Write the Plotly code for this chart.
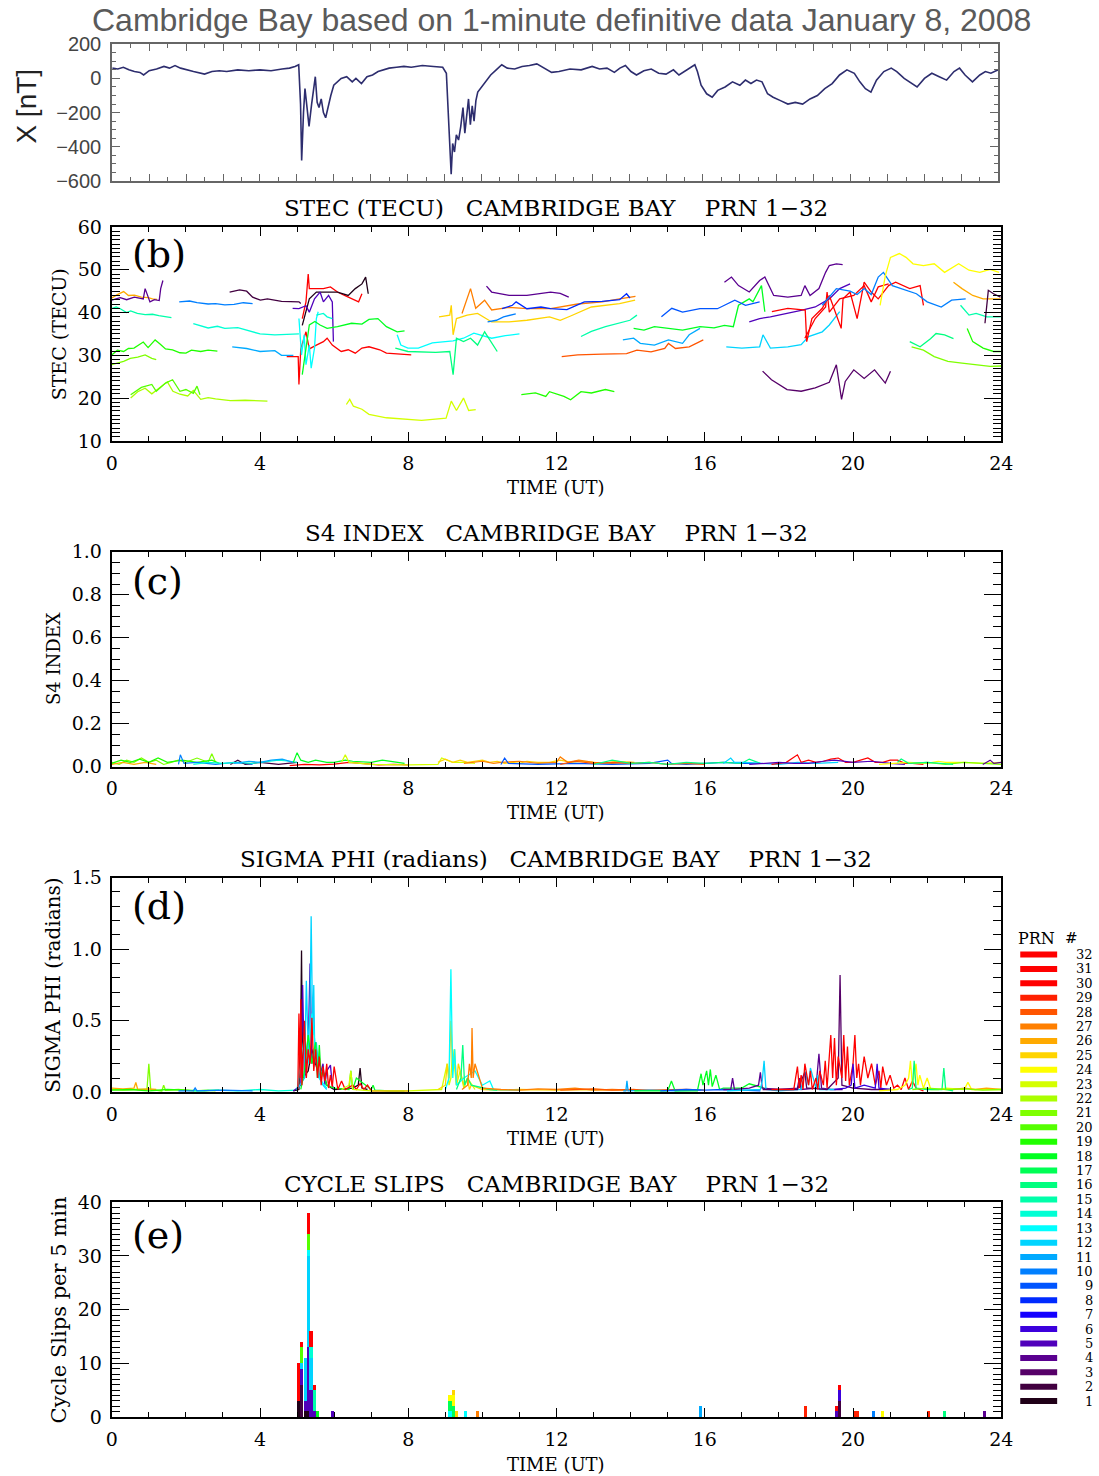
import plotly.graph_objects as go

# Reference picture is 1099 x 1476.  The capture maps figure pixels to picture
# pixels as  pic = S * fig + (BX, BY)  (measured on earlier renders), so layout
# positions given in reference pixels are converted back through that map.
W_REF, H_REF = 1099, 1476
S, BX, BY = 0.986, 4.5, 9.8
W_FIG, H_FIG = 1112, 1490
SERIF = "DejaVu Serif"
SANS = "Liberation Sans"

# ---------------- colours (IDL rainbow table, PRN 1..32) ----------------
PRN_COLORS = {1: "#200018", 2: "#420040", 3: "#560068", 4: "#5a0090", 5: "#5000bb",
              6: "#3c00dc", 7: "#1400ff", 8: "#002aff", 9: "#0055ff", 10: "#007fff",
              11: "#00aaff", 12: "#00d4ff", 13: "#00ffff", 14: "#00ffd4", 15: "#00ffaa",
              16: "#00ff7f", 17: "#00ff55", 18: "#00ff20", 19: "#20ff00", 20: "#55ff00",
              21: "#7fff00", 22: "#aaff00", 23: "#d4ff00", 24: "#ffff00", 25: "#ffd400",
              26: "#ffaa00", 27: "#ff7f00", 28: "#ff5500", 29: "#ff2000", 30: "#ff0000",
              31: "#ff0000", 32: "#ff0000"}

# ---------------- (a) magnetometer X component ----------------
MAG_T = [0.0, 0.15, 0.3, 0.45, 0.6, 0.75, 0.85, 1.0, 1.2, 1.4, 1.55, 1.7, 1.85, 2.0, 2.2, 2.5, 2.7,
         2.9, 3.1, 3.4, 3.7, 4.0, 4.3, 4.6, 4.8, 4.95, 5.05, 5.1, 5.13, 5.18, 5.22, 5.28, 5.33, 5.4,
         5.47, 5.5, 5.55, 5.6, 5.66, 5.72, 5.78, 5.85, 5.92, 6.0, 6.1, 6.2, 6.35, 6.5, 6.6, 6.75,
         6.9, 7.05, 7.2, 7.35, 7.5, 7.7, 7.9, 8.1, 8.4, 8.7, 8.95, 9.05, 9.12, 9.18, 9.22, 9.27,
         9.32, 9.38, 9.44, 9.5, 9.55, 9.6, 9.65, 9.7, 9.75, 9.8, 9.85, 9.9, 10.0, 10.1, 10.25,
         10.4, 10.55, 10.7, 10.9, 11.1, 11.3, 11.5, 11.7, 11.9, 12.1, 12.4, 12.7, 13.0, 13.2, 13.4,
         13.6, 13.75, 13.9, 14.05, 14.2, 14.4, 14.6, 14.8, 15.0, 15.2, 15.35, 15.5, 15.65, 15.78,
         15.85, 15.95, 16.1, 16.25, 16.4, 16.6, 16.8, 17.0, 17.15, 17.3, 17.45, 17.6, 17.75, 17.9,
         18.1, 18.3, 18.5, 18.7, 18.9, 19.1, 19.3, 19.5, 19.7, 19.9, 20.1, 20.25, 20.4, 20.55,
         20.7, 20.9, 21.1, 21.25, 21.45, 21.6, 21.8, 22.0, 22.2, 22.4, 22.6, 22.8, 22.95, 23.1,
         23.3, 23.5, 23.65, 23.8, 24.0]
MAG_X = [60, 55, 65, 50, 40, 35, 20, 45, 55, 70, 60, 75, 60, 50, 40, 25, 40,
         45, 40, 50, 45, 50, 45, 55, 60, 70, 80, -150, -480, -200, -60, -180, -280, -150,
         -30, 10, -140, -170, -120, -200, -230, -160, -100, -40, -20, 0, 10, -20, 0, -30,
         10, 20, 40, 50, 60, 65, 70, 65, 75, 70, 65, 30, -300, -560, -380, -430,
         -330, -360, -280, -170, -320, -220, -120, -270, -160, -250, -130, -80, -50, -20, 20,
         50, 80, 60, 55, 70, 75, 85, 60, 35, 40, 55, 50, 70, 55, 60,
         35, 60, 75, 40, 20, 45, 55, 30, 25, 50, 20, 40, 65, 80,
         40, -40, -90, -110, -70, -50, -20, -40, -10, -30, -10, -20, -90, -110,
         -130, -150, -140, -150, -120, -100, -60, -30, 20, 50, 30, -20, -60, -80,
         -10, 40, 60, 40, 0, -20, -50, 0, 30, 10, -10, 40, 60, 20,
         -20, 20, 40, 30, 50]

# ---------------- (b) STEC segments ----------------
STEC_PRN = [26, 4, 15, 19, 21, 22, 20, 10, 2, 14, 11, 32, 31, 1, 5, 13, 14, 18, 23, 13, 16, 25, 27,
            4, 8, 10, 19, 28, 15, 18, 11, 9, 12, 4, 5, 30, 31, 10, 24, 3, 16, 21, 19, 15, 26, 2]
STEC_T = [
    [0, 0.15, 0.32, 0.45, 0.61, 0.8, 0.98, 1.1, 1.22],
    [0, 0.23, 0.4, 0.61, 0.85, 0.9, 1.03, 1.15, 1.28, 1.32, 1.38],
    [0, 0.12, 0.23, 0.4, 0.51, 0.69, 0.9, 1.1, 1.27, 1.61],
    [0, 0.15, 0.32, 0.45, 0.6, 0.72, 0.85, 0.98, 1.17, 1.31, 1.45, 1.64, 1.84, 2.0, 2.15, 2.4, 2.6, 2.85],
    [0, 0.15, 0.32, 0.5, 0.7, 0.9, 1.08, 1.2],
    [0.51, 0.7, 0.9, 1.08, 1.3, 1.5, 1.65, 1.84, 2.05, 2.2, 2.4, 2.6, 2.8, 3.2, 3.6, 4.2],
    [0.51, 0.7, 0.8, 1.08, 1.2, 1.45, 1.64, 1.84, 2.0, 2.2, 2.3, 2.38],
    [1.82, 2.1, 2.3, 2.6, 2.8, 3.05, 3.3, 3.55, 3.8],
    [3.18, 3.45, 3.64, 3.8, 4.01, 4.2, 4.58, 5.05, 5.1],
    [2.2, 2.42, 2.6, 2.85, 3.05, 3.4, 3.78, 4.0, 4.4, 4.8, 5.05],
    [3.25, 3.64, 4.0, 4.4, 4.58, 4.9],
    [4.72, 5.03, 5.05, 5.1, 5.24, 5.33, 5.52, 5.71, 5.81, 5.95, 6.19, 6.38, 6.57, 6.75, 6.94, 7.23, 7.41, 7.7, 8.08],
    [5.14, 5.24, 5.3, 5.33, 5.52, 5.71, 5.9, 6.09, 6.28, 6.47, 6.66, 6.75],
    [5.14, 5.33, 5.52, 6.09, 6.38, 6.57, 6.75, 6.85, 6.92],
    [4.88, 5.05, 5.24, 5.33, 5.47, 5.62, 5.71, 5.85, 5.95, 5.98],
    [5.05, 5.12, 5.19, 5.24, 5.33, 5.38, 5.47, 5.52, 5.57],
    [5.52, 5.71, 5.81, 5.95],
    [5.14, 5.24, 5.33, 5.48, 5.62, 5.81, 6.09, 6.47, 6.75, 6.94, 7.18, 7.41, 7.7, 7.9],
    [6.33, 6.42, 6.52, 6.75, 6.94, 7.41, 8.36, 9.02, 9.16, 9.3, 9.49, 9.63, 9.82],
    [7.7, 7.8, 7.99, 8.27, 8.65, 9.21, 9.49, 9.77, 10.25, 10.62, 11.0],
    [7.65, 7.99, 8.74, 9.12, 9.21, 9.3, 9.49, 9.68, 9.87, 10.06, 10.4],
    [8.83, 9.12, 9.16, 9.21, 9.3, 9.59, 9.87, 10.25, 10.72, 11.2, 11.81, 12.1, 12.38, 12.94, 13.7, 14.12],
    [9.45, 9.68, 9.82, 10.06, 10.25, 10.72, 11.2, 11.84, 12.57, 13.23, 13.7, 14.13],
    [10.11, 10.25, 10.72, 11.2, 11.84, 12.1, 12.33],
    [10.53, 10.81, 10.91, 11.2, 11.58, 11.84, 12.28, 12.75, 13.23, 13.7, 13.89, 13.98],
    [10.14, 10.38, 10.57, 10.9],
    [11.05, 11.43, 11.71, 11.81, 12.2, 12.38, 12.66, 12.94, 13.32, 13.56],
    [12.14, 12.57, 13.23, 13.89, 14.17, 14.55, 14.92, 15.02, 15.21, 15.58, 15.96],
    [12.66, 12.94, 13.32, 13.7, 13.98, 14.17],
    [14.08, 14.36, 14.64, 15.02, 15.4, 15.87, 16.25, 16.53, 16.77, 16.91, 17.2, 17.3, 17.43, 17.53, 17.62],
    [13.79, 14.08, 14.26, 14.64, 15.02, 15.4, 15.58, 15.87],
    [14.83, 15.11, 15.4, 15.87, 16.34, 16.81, 17.1, 17.48],
    [16.58, 17.0, 17.48, 17.57, 17.77, 18.24, 18.6, 18.8, 19.17, 19.36, 19.64],
    [16.53, 16.72, 16.91, 17.2, 17.48, 17.62, 17.86, 18.24, 18.6, 18.7, 18.84, 19.08, 19.26, 19.36, 19.55, 19.72],
    [17.2, 17.48, 17.77, 18.24, 18.6, 18.98, 19.36, 19.64, 19.92],
    [17.81, 18.24, 18.71, 18.75, 18.89, 19.17, 19.36, 19.45, 19.68, 19.73, 19.92, 20.11, 20.3, 20.49, 20.68, 20.96, 21.15, 21.53, 21.81, 21.9],
    [18.7, 18.98, 19.26, 19.3, 19.36, 19.64, 20.02, 20.3, 20.49, 20.68, 20.96],
    [19.17, 19.55, 19.92, 20.11, 20.3, 20.49, 20.68, 20.82, 21.06, 21.43, 21.71, 22.0, 22.38, 22.66, 23.04],
    [20.73, 20.87, 21.01, 21.25, 21.43, 21.62, 21.9, 22.19, 22.47, 22.85, 23.13, 23.42, 23.7, 23.94],
    [17.56, 17.8, 18.22, 18.6, 18.98, 19.36, 19.55, 19.69, 19.79, 20.02, 20.3, 20.58, 20.87, 21.01],
    [21.53, 21.81, 22.09, 22.24, 22.47, 22.71],
    [21.58, 21.9, 22.19, 22.56, 22.94, 23.42, 23.7, 24.0],
    [23.08, 23.23, 23.51, 23.79, 23.98],
    [22.9, 23.13, 23.32, 23.61, 23.98],
    [22.71, 22.94, 23.23, 23.51, 23.98],
    [23.56, 23.65, 23.79, 23.98],
]
STEC_V = [
    [43.4, 44.2, 44.9, 44.0, 44.1, 43.6, 43.5, 43.2, 43.1],
    [42.9, 43.5, 43.0, 43.6, 43.2, 45.6, 42.5, 43.0, 42.8, 45.6, 47.5],
    [40.9, 41.3, 40.9, 40.0, 40.4, 39.8, 39.5, 39.6, 39.3, 38.8],
    [30.1, 31.2, 30.9, 31.6, 31.7, 32.4, 33.1, 31.8, 33.6, 32.6, 31.5, 31.3, 30.6, 30.5, 31.2, 30.9, 31.2, 31.0],
    [27.8, 28.2, 28.6, 29.3, 29.6, 30.1, 29.3, 29.0],
    [20.0, 21.5, 22.3, 21.0, 22.5, 23.8, 21.6, 20.9, 20.5, 21.8, 19.7, 20.1, 19.8, 19.4, 19.5, 19.3],
    [20.8, 22.0, 22.5, 23.2, 21.6, 23.5, 24.3, 21.6, 22.0, 21.1, 22.8, 20.8],
    [42.5, 42.7, 42.3, 42.0, 42.1, 41.8, 41.9, 42.3, 42.1],
    [44.8, 45.3, 45.0, 43.6, 42.9, 43.2, 42.6, 42.5, 42.1],
    [37.4, 36.9, 36.4, 36.8, 36.3, 36.5, 35.5, 35.0, 34.8, 35.0, 35.0],
    [32.0, 31.6, 30.9, 31.1, 30.0, 30.0],
    [29.7, 29.7, 23.2, 31.5, 35.5, 31.5, 32.4, 33.2, 34.0, 32.4, 30.9, 31.3, 30.5, 31.7, 32.0, 31.3, 30.5, 30.3, 30.1],
    [38.6, 42.5, 49.0, 45.6, 45.6, 45.6, 46.0, 44.8, 44.0, 43.2, 42.5, 44.4],
    [37.0, 43.2, 44.8, 44.8, 44.0, 45.6, 46.7, 48.3, 44.4],
    [41.0, 40.9, 41.6, 40.1, 43.2, 44.8, 42.5, 44.0, 42.5, 33.2],
    [38.6, 30.1, 34.8, 27.8, 32.4, 27.0, 31.7, 38.6, 40.2],
    [39.4, 39.8, 39.0, 38.6],
    [25.5, 31.7, 37.1, 37.9, 37.1, 36.3, 36.7, 37.5, 37.3, 38.4, 38.6, 36.7, 35.5, 35.7],
    [18.5, 19.7, 18.1, 17.4, 16.2, 15.4, 14.8, 15.3, 19.3, 17.1, 20.0, 17.1, 17.3],
    [34.8, 32.4, 31.7, 31.7, 32.9, 33.4, 34.0, 35.2, 34.0, 34.6, 35.0],
    [31.7, 30.9, 30.7, 30.9, 25.5, 34.0, 33.2, 34.0, 32.4, 35.5, 30.9],
    [39.0, 39.4, 41.7, 34.8, 38.6, 39.4, 39.8, 37.8, 37.8, 38.2, 39.0, 38.2, 39.2, 41.3, 42.1, 42.9],
    [39.8, 45.6, 41.0, 42.9, 40.6, 41.2, 40.9, 40.9, 42.0, 42.5, 43.2, 43.8],
    [46.2, 44.8, 44.0, 44.0, 44.8, 44.5, 43.6],
    [40.9, 41.7, 42.5, 40.9, 41.3, 40.9, 40.7, 42.5, 42.6, 43.0, 44.4, 43.4],
    [37.8, 38.2, 39.0, 39.7],
    [20.8, 21.2, 20.4, 21.5, 20.4, 19.6, 21.5, 21.2, 22.0, 21.5],
    [29.7, 30.1, 30.3, 30.4, 31.2, 30.8, 31.6, 32.8, 31.6, 32.0, 33.6],
    [34.4, 35.6, 36.7, 37.5, 38.2, 39.4],
    [36.3, 35.9, 36.7, 36.3, 35.9, 36.7, 36.4, 37.0, 36.7, 41.7, 43.2, 42.5, 44.8, 46.3, 40.2],
    [33.6, 34.0, 32.8, 32.4, 33.6, 32.8, 34.8, 36.3],
    [39.0, 41.0, 40.1, 40.9, 40.9, 42.9, 41.7, 42.5],
    [32.0, 31.7, 32.0, 34.8, 31.7, 32.0, 32.5, 34.4, 35.5, 37.1, 40.2],
    [47.1, 48.3, 46.3, 44.8, 47.5, 48.3, 44.0, 43.6, 44.0, 46.3, 44.0, 45.6, 49.4, 51.0, 51.4, 51.2],
    [37.8, 38.6, 39.0, 39.8, 40.5, 41.3, 43.2, 45.6, 46.7],
    [40.2, 41.0, 40.6, 33.2, 38.6, 41.0, 44.0, 41.7, 36.3, 43.2, 44.8, 38.6, 47.1, 44.8, 43.2, 46.3, 47.1, 45.6, 46.3, 41.7],
    [34.0, 38.6, 41.3, 44.8, 40.1, 43.2, 44.0, 46.3, 42.5, 46.0, 46.7],
    [41.7, 45.6, 45.0, 44.2, 45.6, 44.2, 48.3, 49.4, 46.3, 45.2, 44.4, 42.5, 41.3, 42.9, 43.2],
    [41.7, 48.6, 52.9, 53.8, 52.9, 51.4, 51.0, 51.4, 49.4, 51.4, 49.9, 49.4, 50.1, 49.4],
    [26.3, 24.3, 22.0, 21.6, 22.4, 23.7, 27.8, 19.7, 23.9, 26.6, 24.6, 26.6, 23.5, 26.3],
    [33.2, 32.0, 33.9, 35.1, 34.8, 33.9],
    [32.0, 31.2, 29.7, 28.6, 28.2, 27.8, 27.4, 27.5],
    [36.3, 33.2, 31.7, 30.9, 30.9],
    [41.7, 39.4, 39.8, 39.0, 39.0],
    [47.1, 45.6, 44.0, 43.2, 43.2],
    [37.5, 45.2, 44.4, 43.6],
]

# ---------------- (c) S4 index ----------------
S4_PRN = [21, 26, 19, 10, 2, 14, 11, 18, 32, 23, 25, 27, 9, 28, 16, 12, 30, 5, 24, 21, 16, 4]
S4_T = [
    [0, 0.2, 0.4, 0.6, 0.8, 1.0, 1.2, 1.4, 1.6, 1.8, 2.0, 2.3, 2.6, 2.7, 2.8],
    [0, 0.3, 0.6, 0.9, 1.2],
    [0, 0.25, 0.5, 0.75, 1.0, 1.25, 1.5, 1.9, 2.3, 2.7, 2.9],
    [1.8, 1.85, 1.95, 2.3, 2.8, 3.3, 3.8],
    [3.2, 3.4, 3.6, 4.0, 4.5, 5.0],
    [2.2, 2.6, 3.0, 3.4, 3.8, 4.2, 4.5, 4.8, 5.0],
    [3.3, 3.7, 4.0, 4.3, 4.6, 4.9],
    [4.9, 5.0, 5.1, 5.3, 5.5, 5.8, 6.0, 6.3, 6.5, 6.8, 7.0, 7.3, 7.5, 7.9],
    [4.8, 5.2, 5.6, 6.0, 6.4, 6.8, 7.2, 7.6, 8.0],
    [6.2, 6.3, 6.4, 7.0, 8.0, 8.8, 8.9, 9.2, 9.5, 9.8],
    [8.8, 9.0, 9.2, 9.4, 9.6, 9.8, 10.0, 10.2, 10.4, 10.6, 10.8, 11.0, 11.2, 11.5, 11.8, 12.1, 12.4, 12.7, 13.0, 13.3, 13.6, 13.9, 14.1],
    [9.5, 9.8, 10.0, 10.3, 10.5, 11.0, 11.5, 12.0, 12.1, 12.3, 12.6, 13.0, 13.5, 14.0, 14.1],
    [10.5, 10.6, 10.7, 11.5, 12.5, 13.5, 14.5, 15.0, 15.1, 15.5, 16.0, 16.5, 17.0, 17.5],
    [12.1, 12.5, 13.0, 13.5, 14.0, 14.5, 15.0, 15.5, 16.0],
    [13.0, 13.5, 14.0, 14.5, 15.0, 15.5, 16.0, 16.5, 17.0, 17.2, 17.5],
    [16.5, 16.7, 16.8, 17.1, 17.5, 18.0, 18.5, 19.0, 19.6],
    [17.8, 18.2, 18.5, 18.6, 18.8, 19.0, 19.2, 19.4, 19.6, 19.8, 20.0, 20.2, 20.4, 20.6, 20.8, 21.0, 21.2, 21.4, 21.6, 21.9],
    [17.2, 17.6, 18.0, 18.4, 18.8, 19.2, 19.5, 20.0, 20.5, 21.0, 21.4],
    [20.7, 21.0, 21.5, 22.0, 22.3, 22.5, 23.0, 23.5, 24.0],
    [21.6, 22.0, 22.5, 23.0, 23.5, 24.0],
    [21.2, 21.3, 21.5, 22.0, 22.7],
    [23.5, 23.7, 23.8, 24.0],
]
S4_V = [
    [0.02, 0.01, 0.03, 0.02, 0.04, 0.02, 0.03, 0.01, 0.02, 0.03, 0.02, 0.04, 0.02, 0.06, 0.02],
    [0.01, 0.02, 0.01, 0.02, 0.01],
    [0.015, 0.03, 0.02, 0.035, 0.02, 0.04, 0.02, 0.03, 0.02, 0.03, 0.015],
    [0.01, 0.055, 0.015, 0.02, 0.01, 0.02, 0.01],
    [0.01, 0.03, 0.01, 0.02, 0.01, 0.02],
    [0.01, 0.02, 0.015, 0.02, 0.015, 0.025, 0.03, 0.025, 0.02],
    [0.015, 0.025, 0.02, 0.03, 0.035, 0.02],
    [0.02, 0.065, 0.03, 0.02, 0.03, 0.02, 0.02, 0.03, 0.025, 0.02, 0.02, 0.03, 0.025, 0.015],
    [0.005, 0.01, 0.008, 0.012, 0.02, 0.015, 0.008, 0.01, 0.008],
    [0.02, 0.055, 0.02, 0.01, 0.008, 0.01, 0.04, 0.02, 0.02, 0.015],
    [0.02, 0.035, 0.02, 0.03, 0.02, 0.025, 0.03, 0.02, 0.025, 0.015, 0.02, 0.015, 0.025, 0.02, 0.02, 0.03, 0.02, 0.025, 0.02, 0.015, 0.025, 0.02, 0.02],
    [0.015, 0.02, 0.025, 0.015, 0.02, 0.025, 0.015, 0.02, 0.045, 0.02, 0.03, 0.02, 0.015, 0.02, 0.015],
    [0.01, 0.04, 0.015, 0.01, 0.015, 0.01, 0.015, 0.03, 0.015, 0.01, 0.015, 0.02, 0.015, 0.015],
    [0.01, 0.025, 0.015, 0.02, 0.015, 0.02, 0.01, 0.015, 0.01],
    [0.01, 0.03, 0.015, 0.02, 0.01, 0.02, 0.015, 0.02, 0.015, 0.035, 0.015],
    [0.015, 0.04, 0.02, 0.02, 0.015, 0.01, 0.02, 0.015, 0.02],
    [0.01, 0.02, 0.055, 0.02, 0.03, 0.02, 0.025, 0.035, 0.04, 0.02, 0.02, 0.03, 0.04, 0.02, 0.02, 0.03, 0.03, 0.015, 0.015, 0.01],
    [0.01, 0.015, 0.02, 0.015, 0.015, 0.025, 0.03, 0.02, 0.025, 0.015, 0.01],
    [0.01, 0.015, 0.02, 0.015, 0.025, 0.02, 0.02, 0.015, 0.02],
    [0.015, 0.02, 0.01, 0.02, 0.015, 0.01],
    [0.02, 0.035, 0.015, 0.02, 0.01],
    [0.01, 0.03, 0.015, 0.02],
]

# ---------------- (d) sigma phi ----------------
SIG_PRN = [21, 26, 19, 14, 10, 1, 5, 12, 13, 18, 32, 23, 25, 13, 16, 27, 28, 11, 18, 9, 4, 12, 3,
           30, 6, 24, 16, 26, 21]
SIG_T = [
    [0, 0.3, 0.6, 0.95, 1.0, 1.05, 1.35, 1.4, 1.45, 1.8, 2.2, 2.6, 2.8],
    [0, 0.3, 0.6, 0.65, 0.7, 1.0, 1.2],
    [0, 0.5, 1.0, 1.5, 2.0, 2.5, 2.9],
    [2.2, 2.8, 3.4, 4.0, 4.5, 5.0],
    [1.8, 2.2, 2.25, 2.3, 3.0, 3.8],
    [4.9, 5.05, 5.1, 5.12, 5.15, 5.3, 5.4, 5.6, 5.7, 5.8, 6.0, 6.5, 6.65, 6.7, 6.75, 6.9],
    [4.9, 5.1, 5.15, 5.2, 5.3, 5.35, 5.4, 5.5, 5.6, 5.7, 5.75, 5.8, 5.9, 5.95, 6.0],
    [5.0, 5.2, 5.25, 5.3, 5.35, 5.38, 5.42, 5.45, 5.48, 5.52, 5.6, 5.7, 5.8],
    [5.0, 5.2, 5.3, 5.4, 5.5, 5.6, 5.8],
    [5.1, 5.2, 5.3, 5.4, 5.5, 5.55, 5.6, 5.65, 5.7, 5.8, 6.0, 6.4, 6.45, 6.5, 6.6, 7.0, 7.05, 7.1, 7.5, 7.9],
    [5.02, 5.05, 5.08, 5.1, 5.13, 5.16, 5.2, 5.25, 5.3, 5.35, 5.4, 5.45, 5.5, 5.55, 5.6, 5.65, 5.7, 5.75,
     5.8, 5.85, 5.9, 5.95, 6.0, 6.1, 6.2, 6.3, 6.5, 6.6, 6.7, 6.8, 6.9, 7.0, 7.3, 7.7, 8.0],
    [6.2, 6.4, 6.45, 6.5, 7.0, 8.0, 8.9, 9.05, 9.1, 9.15, 9.2, 9.3, 9.4, 9.5, 9.6, 9.8],
    [8.8, 9.0, 9.05, 9.1, 9.15, 9.2, 9.25, 9.3, 9.35, 9.5, 9.6, 9.65, 9.7, 10.0, 10.5, 11.0, 12.0, 13.0, 14.1],
    [9.0, 9.1, 9.15, 9.2, 9.25, 9.3, 9.5, 9.8, 10.0, 10.2, 10.3, 11.0],
    [9.3, 9.42, 9.47, 9.52, 9.6, 9.7, 10.2, 10.4],
    [9.45, 9.6, 9.65, 9.7, 9.72, 9.75, 9.8, 10.0, 10.5, 11.0, 11.5, 12.0, 12.5, 13.0, 13.5, 14.0, 14.1],
    [12.1, 12.5, 13.0, 13.5, 14.0, 14.5, 15.0, 15.5, 16.0],
    [13.8, 13.87, 13.9, 13.93, 14.5, 15.2, 15.9],
    [14.1, 15.0, 15.1, 15.2, 15.8, 15.9, 15.95, 16.05, 16.1, 16.15, 16.2, 16.3, 16.4, 16.5, 17.0, 17.2, 17.6],
    [14.8, 15.5, 16.0, 16.5, 17.0, 17.5],
    [16.5, 16.7, 16.75, 16.8, 17.2, 17.45, 17.5, 17.55, 18.0, 18.5, 18.55, 18.6, 19.0, 19.08, 19.15, 19.4, 19.72],
    [16.6, 17.5, 17.55, 17.6, 17.65, 18.0, 18.6, 18.7, 18.8, 18.85, 19.0, 19.05, 19.1, 19.5],
    [17.56, 18.5, 18.7, 18.75, 18.8, 19.3, 19.6, 19.65, 19.7, 20.0, 20.5, 21.0],
    [17.8, 18.4, 18.5, 18.55, 18.6, 18.65, 18.7, 18.8, 18.85, 18.9, 19.0, 19.05, 19.1, 19.2, 19.25, 19.3,
     19.4, 19.45, 19.5, 19.55, 19.6, 19.7, 19.75, 19.8, 19.85, 19.9, 20.0, 20.05, 20.1, 20.15, 20.2, 20.3,
     20.4, 20.5, 20.6, 20.7, 20.75, 20.8, 20.9, 21.0, 21.1, 21.2, 21.3, 21.4, 21.5, 21.6, 21.7, 21.8, 21.9],
    [19.5, 19.8, 19.95, 20.0, 20.05, 20.3, 20.6, 20.65, 20.7, 21.0],
    [20.7, 21.2, 21.4, 21.5, 21.55, 21.6, 21.7, 21.75, 21.8, 21.9, 22.0, 22.1, 22.3, 22.5, 23.0, 23.1, 23.2, 23.5, 24.0],
    [21.5, 21.6, 21.65, 21.7, 22.0, 22.4, 22.45, 22.5, 22.7],
    [22.7, 23.0, 23.3, 23.6, 24.0],
    [21.6, 22.0, 22.5, 23.0, 23.5, 24.0],
]
SIG_V = [
    [0.02, 0.015, 0.02, 0.02, 0.2, 0.02, 0.01, 0.05, 0.015, 0.02, 0.01, 0.015, 0.01],
    [0.03, 0.025, 0.03, 0.07, 0.02, 0.025, 0.02],
    [0.015, 0.02, 0.01, 0.02, 0.015, 0.01, 0.015],
    [0.01, 0.015, 0.01, 0.02, 0.01, 0.015],
    [0.01, 0.01, 0.03, 0.01, 0.015, 0.01],
    [0.01, 0.02, 0.5, 0.99, 0.1, 0.15, 0.3, 0.1, 0.15, 0.05, 0.02, 0.03, 0.05, 0.17, 0.03, 0.02],
    [0.01, 0.05, 0.75, 0.1, 0.3, 0.9, 0.2, 0.35, 0.1, 0.2, 0.05, 0.15, 0.19, 0.05, 0.02],
    [0.02, 0.1, 0.78, 0.3, 0.6, 1.23, 0.4, 0.75, 0.2, 0.35, 0.1, 0.05, 0.02],
    [0.02, 0.4, 0.2, 0.55, 0.3, 0.1, 0.03],
    [0.02, 0.15, 0.4, 0.2, 0.35, 0.1, 0.33, 0.1, 0.15, 0.05, 0.03, 0.02, 0.15, 0.02, 0.1, 0.02, 0.05, 0.015, 0.01, 0.01],
    [0.02, 0.55, 0.1, 0.65, 0.05, 0.2, 0.5, 0.1, 0.3, 0.2, 0.52, 0.15, 0.3, 0.1, 0.25, 0.05, 0.18, 0.08,
     0.2, 0.03, 0.12, 0.04, 0.18, 0.02, 0.08, 0.02, 0.05, 0.02, 0.06, 0.02, 0.05, 0.01, 0.01, 0.01, 0.01],
    [0.02, 0.05, 0.15, 0.02, 0.01, 0.01, 0.02, 0.2, 0.05, 0.1, 0.3, 0.05, 0.15, 0.03, 0.1, 0.02],
    [0.02, 0.05, 0.2, 0.1, 0.5, 0.15, 0.3, 0.05, 0.2, 0.05, 0.1, 0.02, 0.05, 0.02, 0.015, 0.02, 0.015, 0.02, 0.015],
    [0.02, 0.1, 0.86, 0.1, 0.3, 0.05, 0.1, 0.15, 0.05, 0.08, 0.02, 0.015],
    [0.02, 0.1, 0.33, 0.05, 0.1, 0.05, 0.02, 0.015],
    [0.02, 0.05, 0.2, 0.1, 0.45, 0.1, 0.2, 0.03, 0.02, 0.015, 0.025, 0.02, 0.03, 0.015, 0.02, 0.015, 0.02],
    [0.015, 0.02, 0.025, 0.015, 0.02, 0.015, 0.02, 0.02, 0.015],
    [0.01, 0.01, 0.08, 0.01, 0.015, 0.01, 0.015],
    [0.01, 0.01, 0.08, 0.01, 0.01, 0.13, 0.05, 0.15, 0.05, 0.16, 0.04, 0.12, 0.02, 0.03, 0.03, 0.06, 0.03],
    [0.01, 0.02, 0.015, 0.02, 0.015, 0.01],
    [0.02, 0.02, 0.1, 0.02, 0.03, 0.05, 0.14, 0.03, 0.02, 0.03, 0.1, 0.02, 0.03, 0.27, 0.03, 0.02, 0.02],
    [0.01, 0.02, 0.08, 0.22, 0.02, 0.01, 0.02, 0.15, 0.05, 0.17, 0.03, 0.12, 0.02, 0.02],
    [0.02, 0.02, 0.14, 0.03, 0.03, 0.02, 0.1, 0.82, 0.05, 0.03, 0.02, 0.02],
    [0.02, 0.02, 0.18, 0.03, 0.12, 0.02, 0.2, 0.05, 0.15, 0.02, 0.1, 0.02, 0.15, 0.05, 0.22, 0.03,
     0.4, 0.1, 0.38, 0.05, 0.25, 0.1, 0.4, 0.08, 0.32, 0.05, 0.2, 0.4, 0.1, 0.2, 0.05, 0.25,
     0.1, 0.2, 0.05, 0.15, 0.03, 0.18, 0.05, 0.12, 0.03, 0.05, 0.02, 0.1, 0.02, 0.08, 0.03, 0.02, 0.01],
    [0.02, 0.03, 0.05, 0.2, 0.03, 0.05, 0.03, 0.2, 0.03, 0.02],
    [0.01, 0.02, 0.05, 0.1, 0.22, 0.05, 0.2, 0.05, 0.12, 0.03, 0.1, 0.02, 0.02, 0.03, 0.02, 0.07, 0.02, 0.02, 0.02],
    [0.02, 0.03, 0.22, 0.03, 0.02, 0.02, 0.17, 0.02, 0.01],
    [0.02, 0.03, 0.02, 0.03, 0.02],
    [0.02, 0.03, 0.02, 0.025, 0.015, 0.02],
]

# ---------------- (e) cycle slips per 5-min bin ----------------
SLIP_T = [5.04, 5.04, 5.12, 5.12, 5.12, 5.12, 5.12, 5.21, 5.21, 5.21,
          5.29, 5.29, 5.29, 5.29, 5.29, 5.29, 5.37, 5.37, 5.37, 5.37,
          5.46, 5.46, 5.46, 5.54, 5.96, 9.12, 9.12, 9.12, 9.21, 9.21, 9.21,
          9.29, 9.54, 9.87, 15.87, 18.71, 19.54, 19.54, 19.62, 19.62, 19.62,
          20.04, 20.12, 20.54, 20.79, 22.04, 22.46, 23.54]
SLIP_PRN = [1, 32, 2, 5, 12, 20, 32, 1, 5, 12,
            1, 5, 12, 13, 20, 31, 5, 12, 14, 31,
            5, 15, 31, 18, 5, 13, 17, 24, 17, 24, 25,
            25, 13, 27, 11, 29, 5, 30, 2, 6, 30,
            29, 29, 10, 24, 29, 16, 4]
SLIP_N = [3, 7, 6, 3, 1, 3, 1, 1, 2, 8,
          1, 12, 17, 1, 3, 4, 5, 6, 2, 3,
          1, 4, 1, 1, 1, 1, 2, 1, 2, 2, 1,
          1, 1, 1, 2, 2, 1, 1, 3, 2, 1,
          1, 1, 1, 1, 1, 1, 1]

X_TICKS = [0, 4, 8, 12, 16, 20, 24]
LEGEND_PRNS = list(range(1, 33))


# ---------------- layout helpers (reference pixel -> paper) ----------------
def px(x):
    return ((x - BX) / S) / W_FIG


def py(y):
    return 1 - ((y - BY) / S) / H_FIG


def xdom(l, r):
    return [px(l), px(r)]


def ydom(top, bottom):
    return [py(bottom), py(top)]


def time_axis(dom, anchor):
    return dict(domain=dom, anchor=anchor, range=[0, 24], tickmode="array", tickvals=X_TICKS,
                ticks="inside", ticklen=9, tickwidth=1.2, tickcolor="black",
                minor=dict(dtick=1, tick0=0, ticklen=5, tickwidth=1, tickcolor="black", ticks="inside"),
                showline=True, linecolor="black", linewidth=2, mirror="allticks",
                showgrid=False, zeroline=False, ticklabelstandoff=4,
                tickfont=dict(family=SERIF, size=19, color="black"))


def val_axis(dom, anchor, rng, dtick, minor, fmt=None):
    d = dict(domain=dom, anchor=anchor, range=rng, dtick=dtick, tick0=0,
             ticks="inside", ticklen=17, tickwidth=1.2, tickcolor="black",
             minor=dict(dtick=minor, tick0=0, ticklen=8, tickwidth=1, tickcolor="black", ticks="inside"),
             showline=True, linecolor="black", linewidth=2, mirror="allticks",
             showgrid=False, zeroline=False, ticklabelstandoff=4,
             tickfont=dict(family=SERIF, size=19, color="black"))
    if fmt:
        d["tickformat"] = fmt
    return d


XD = xdom(110.5, 1002)
fig = go.Figure()

# (a)
fig.add_trace(go.Scatter(x=MAG_T, y=MAG_X, mode="lines", line=dict(color="#2d2d6e", width=1.6),
                         xaxis="x", yaxis="y", showlegend=False, hoverinfo="skip"))
# (b)
for prn, t, v in zip(STEC_PRN, STEC_T, STEC_V):
    fig.add_trace(go.Scatter(x=t, y=v, mode="lines", line=dict(color=PRN_COLORS[prn], width=1.3),
                             xaxis="x2", yaxis="y2", showlegend=False, hoverinfo="skip"))
# (c)
for prn, t, v in zip(S4_PRN, S4_T, S4_V):
    fig.add_trace(go.Scatter(x=t, y=v, mode="lines", line=dict(color=PRN_COLORS[prn], width=1.2),
                             xaxis="x3", yaxis="y3", showlegend=False, hoverinfo="skip"))
# (d)
for prn, t, v in zip(SIG_PRN, SIG_T, SIG_V):
    fig.add_trace(go.Scatter(x=t, y=v, mode="lines", line=dict(color=PRN_COLORS[prn], width=1.3),
                             xaxis="x4", yaxis="y4", showlegend=False, hoverinfo="skip"))
# (e) stacked, PRN 1 at the bottom
for prn in sorted(set(SLIP_PRN)):
    xs = [t for t, p in zip(SLIP_T, SLIP_PRN) if p == prn]
    ys = [n for n, p in zip(SLIP_N, SLIP_PRN) if p == prn]
    fig.add_trace(go.Bar(x=xs, y=ys, width=5 / 60, marker=dict(color=PRN_COLORS[prn], line=dict(width=0)),
                         xaxis="x5", yaxis="y5", showlegend=False, hoverinfo="skip"))
# colour key (axis x6 spans reference pixels 1015..1099, one unit per pixel)
for prn in LEGEND_PRNS:
    fig.add_trace(go.Scatter(x=[6, 43], y=[prn, prn], mode="lines",
                             line=dict(color=PRN_COLORS[prn], width=6),
                             xaxis="x6", yaxis="y6", showlegend=False, hoverinfo="skip"))

annotations = []
for prn in LEGEND_PRNS:
    annotations.append(dict(x=81, y=prn, xref="x6", yref="y6", text=str(prn), showarrow=False,
                            xanchor="right", yanchor="middle",
                            font=dict(family=SERIF, size=13, color="black")))
annotations.append(dict(x=px(1017), y=py(938), xref="paper", yref="paper", text="PRN", showarrow=False,
                        xanchor="left", yanchor="middle", font=dict(family=SERIF, size=16, color="black")))
annotations.append(dict(x=px(1064), y=py(938), xref="paper", yref="paper", text="#", showarrow=False,
                        xanchor="left", yanchor="middle", font=dict(family=SERIF, size=15, color="black")))

NB = "\u00a0"
titles = [("STEC (TECU)", 207), ("S4 INDEX", 532), ("SIGMA PHI (radians)", 858), ("CYCLE SLIPS", 1184)]
for txt, ypx in titles:
    annotations.append(dict(x=px(556), y=py(ypx), xref="paper", yref="paper",
                            text=txt + NB * 3 + "CAMBRIDGE BAY" + NB * 4 + "PRN 1\u221232",
                            showarrow=False, xanchor="center", yanchor="middle",
                            font=dict(family=SERIF, size=23, color="black")))
for ypx in [487, 812, 1138, 1464]:
    annotations.append(dict(x=px(556), y=py(ypx), xref="paper", yref="paper", text="TIME (UT)",
                            showarrow=False, xanchor="center", yanchor="middle",
                            font=dict(family=SERIF, size=18, color="black")))
for lab, ypx in [("(b)", 253), ("(c)", 580), ("(d)", 905), ("(e)", 1235)]:
    annotations.append(dict(x=px(129), y=py(ypx), xref="paper", yref="paper", text=lab,
                            showarrow=False, xanchor="left", yanchor="middle",
                            font=dict(family=SERIF, size=38, color="black")))
for txt, xpx, ypx, fs in [("STEC (TECU)", 58, 333, 19), ("S4 INDEX", 52, 658, 18),
                          ("SIGMA PHI (radians)", 52, 985, 20), ("Cycle Slips per 5 min", 58, 1310, 21)]:
    annotations.append(dict(x=px(xpx), y=py(ypx), xref="paper", yref="paper", text=txt,
                            textangle=-90, showarrow=False, xanchor="center", yanchor="middle",
                            font=dict(family=SERIF, size=fs, color="black")))
annotations.append(dict(x=px(561), y=py(19), xref="paper", yref="paper",
                        text="Cambridge Bay based on 1-minute definitive data January 8, 2008",
                        showarrow=False, xanchor="center", yanchor="middle",
                        font=dict(family=SANS, size=32, color="#5a5a5a")))
annotations.append(dict(x=px(25), y=py(105), xref="paper", yref="paper", text="X [nT]",
                        textangle=-90, showarrow=False, xanchor="center", yanchor="middle",
                        font=dict(family=SANS, size=28, color="#222222")))

fig.update_layout(
    width=W_FIG, height=H_FIG, margin=dict(l=0, r=0, t=0, b=0),
    paper_bgcolor="white", plot_bgcolor="white", barmode="stack", bargap=0,
    annotations=annotations,
    xaxis=dict(domain=xdom(111, 999), anchor="y", range=[0, 24], dtick=1, tick0=0,
               ticks="inside", ticklen=7, tickcolor="#666", tickwidth=1.2,
               minor=dict(dtick=0.5, tick0=0, ticklen=4, tickcolor="#666", ticks="inside"),
               showline=True, linecolor="#666", linewidth=2, mirror="allticks",
               showticklabels=False, showgrid=False, zeroline=False),
    yaxis=dict(domain=ydom(43, 180), anchor="x", range=[-600, 200], dtick=200, tick0=0,
               ticks="inside", ticklen=8, tickcolor="#666", tickwidth=1.2,
               minor=dict(dtick=50, tick0=0, ticklen=4, tickcolor="#666", ticks="inside"),
               showline=True, linecolor="#666", linewidth=2, mirror="allticks",
               showgrid=False, zeroline=False, ticklabelstandoff=5,
               tickfont=dict(family=SANS, size=20, color="#444444")),
    xaxis2=time_axis(XD, "y2"),
    yaxis2=val_axis(ydom(226, 440), "x2", [10, 60], 10, 1),
    xaxis3=time_axis(XD, "y3"),
    yaxis3=val_axis(ydom(551, 766), "x3", [0, 1], 0.2, 0.05, ".1f"),
    xaxis4=time_axis(XD, "y4"),
    yaxis4=val_axis(ydom(877, 1092), "x4", [0, 1.5], 0.5, 0.1, ".1f"),
    xaxis5=time_axis(XD, "y5"),
    yaxis5=val_axis(ydom(1202, 1417), "x5", [0, 40], 10, 1),
    xaxis6=dict(domain=xdom(1015, 1099), anchor="y6", range=[0, 84], visible=False, fixedrange=True),
    yaxis6=dict(domain=ydom(946.8, 1408.2), anchor="x6", range=[0.5, 32.5], visible=False, fixedrange=True),
)

fig.write_html("out.html")
